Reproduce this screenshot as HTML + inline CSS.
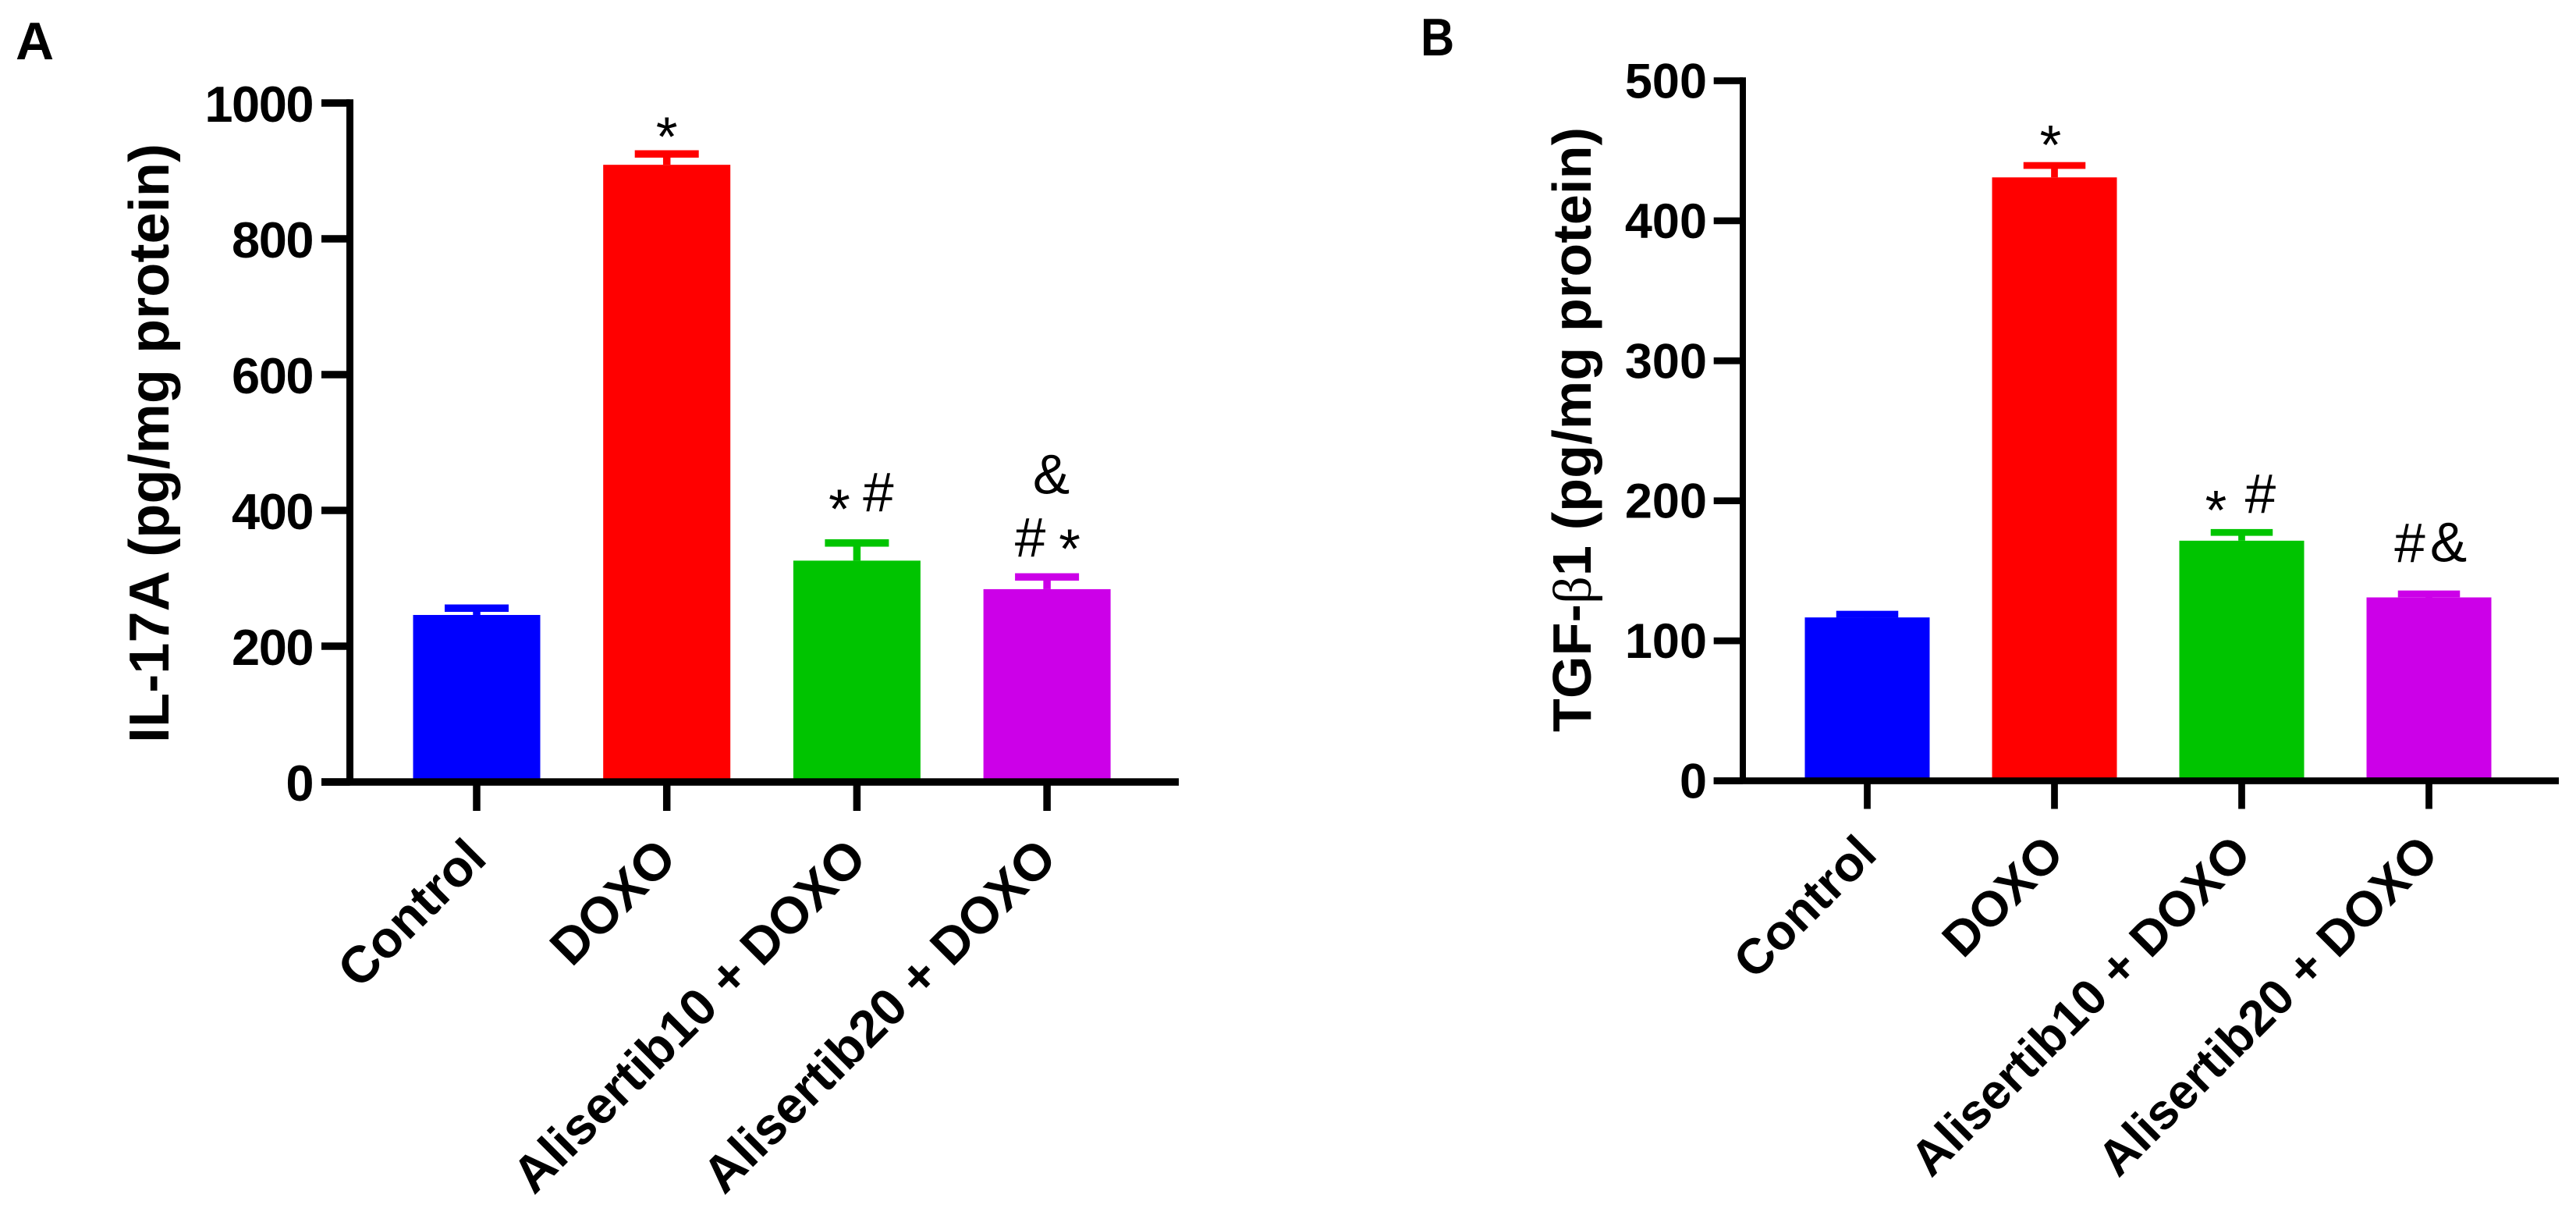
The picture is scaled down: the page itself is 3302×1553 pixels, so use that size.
<!DOCTYPE html>
<html lang="en">
<head>
<meta charset="utf-8">
<title>IL-17A and TGF-β1 bar charts</title>
<style>
html,body{margin:0;padding:0;background:#fff;width:3302px;height:1553px;overflow:hidden}
svg{display:block}
text{font-family:"Liberation Sans",sans-serif;fill:#000}
</style>
</head>
<body>
<svg id="figure" xmlns="http://www.w3.org/2000/svg" width="3302" height="1553" viewBox="0 0 3302 1553">
<rect x="0" y="0" width="3302" height="1553" fill="#fff"/>
</svg>
<script>
const categories = ['Control', 'DOXO', 'Alisertib10 + DOXO', 'Alisertib20 + DOXO'];
const barColors = ['#0000ff', '#ff0000', '#00c400', '#cc00e8'];

const il17aValues = [246, 909, 326, 284];
const il17aUpperError = [256, 925, 352, 302];
const il17aTicks = [0, 200, 400, 600, 800, 1000];

const tgfValues = [116.7, 431, 171.5, 131];
const tgfUpperError = [119, 439.5, 177.4, 133.5];
const tgfTicks = [0, 100, 200, 300, 400, 500];

const svg = document.getElementById('figure');
const NS = 'http://www.w3.org/2000/svg';

function make(tag, props, parent) {
  const el = document.createElementNS(NS, tag);
  for (const k in props) el.setAttribute(k, props[k]);
  (parent || svg).appendChild(el);
  return el;
}

function drawPanel(p) {
  const g = make('g', {});
  
  

  const x = i => p.x0 + p.step * i;
  const y = v => p.y0 - v * p.pxPerUnit;

  // bars and error bars
  p.values.forEach((v, i) => {
    const bar = make('rect', {x: x(i) - p.barW / 2, y: y(v), width: p.barW, height: p.y0 - y(v), fill: barColors[i]}, g);
    
    

    const capY = y(p.errors[i]);
    const stem = make('rect', {x: x(i) - p.thick / 2, y: capY, width: p.thick, height: y(v) - capY, fill: barColors[i]}, g);
    
    

    const cap = make('rect', {x: x(i) - p.capW / 2, y: capY - p.thick / 2, width: p.capW, height: p.thick, fill: barColors[i]}, g);
    
    
  });

  // y axis
  const axisTop = y(p.ticks[p.ticks.length - 1]) - p.thick / 2;
  const yAxis = make('rect', {x: p.axisX - p.axisW / 2, y: axisTop, width: p.axisW, height: p.y0 - axisTop, fill: '#000'}, g);
  
  

  p.ticks.forEach(t => {
    const tick = make('rect', {x: p.tickLeft, y: y(t) - p.thick / 2, width: p.axisX - p.tickLeft, height: p.thick, fill: '#000'}, g);
    
    

    const label = make('text', {x: p.labelRight, y: y(t) + p.labelDrop, 'text-anchor': 'end', 'font-size': p.tickFont, 'font-weight': 700, 'letter-spacing': p.tickSpacing}, g);
    label.textContent = String(t);
    
    
  });

  // x axis
  const xAxis = make('rect', {x: p.tickLeft, y: p.y0 - p.thick / 2, width: p.axisRight - p.tickLeft, height: p.thick, fill: '#000'}, g);
  
  

  categories.forEach((c, i) => {
    const tick = make('rect', {x: x(i) - p.thick / 2, y: p.y0, width: p.thick, height: p.tickBottom - p.y0, fill: '#000'}, g);
    
    

    const ax = x(i) + p.catDx;
    const ay = p.y0 + p.catDy;
    const label = make('text', {x: ax, y: ay, 'text-anchor': 'end', 'font-size': p.catFont, 'font-weight': 700, transform: 'rotate(-45 ' + ax + ' ' + ay + ')'}, g);
    label.textContent = c;
    
    
  });

  // significance marks, placed relative to the error cap of their bar
  p.marks.forEach(m => {
    const mark = make('text', {x: x(m[0]) + m[2], y: y(p.errors[m[0]]) + m[3], 'text-anchor': 'middle', 'font-size': 71}, g);
    mark.textContent = m[1];
    
    
  });
}

drawPanel({
  key: 'il17a', values: il17aValues, errors: il17aUpperError, ticks: il17aTicks,
  x0: 611, step: 243.7, barW: 163, capW: 82, thick: 9.5,
  y0: 1002, pxPerUnit: 0.87,
  axisX: 448.5, axisW: 9, tickLeft: 412, axisRight: 1511, tickBottom: 1039,
  labelRight: 401, labelDrop: 24, tickFont: 65, tickSpacing: -1.5,
  catDx: 15.5, catDy: 101, catFont: 66,
  marks: [
    [1, '*', 0, 2],
    [2, '*', -22.5, -19.5],
    [2, '#', 27.5, -40.5],
    [3, '&', 5.5, -107],
    [3, '#', -21.5, -26],
    [3, '*', 29, -12]
  ]
});

drawPanel({
  key: 'tgf', values: tgfValues, errors: tgfUpperError, ticks: tgfTicks,
  x0: 2393.5, step: 240, barW: 160, capW: 79.5, thick: 8.7,
  y0: 1000.5, pxPerUnit: 1.794,
  axisX: 2234, axisW: 8, tickLeft: 2196.7, axisRight: 3280, tickBottom: 1036.5,
  labelRight: 2188, labelDrop: 22, tickFont: 63, tickSpacing: 0,
  catDx: 15, catDy: 97, catFont: 63.5,
  marks: [
    [1, '*', -5, -2],
    [2, '*', -33, -4],
    [2, '#', 24, -24.7],
    [3, '#', -24.5, -40.5],
    [3, '&', 25, -41.5]
  ]
});

// static titles and panel letters
const letterA = make('text', {x: 20, y: 76, 'font-size': 68, 'font-weight': 700});
letterA.textContent = 'A';



const letterB = make('text', {transform: 'translate(1821 71) scale(0.88 1)', 'font-size': 68, 'font-weight': 700});
letterB.textContent = 'B';



const titleA = make('text', {transform: 'translate(216 952) rotate(-90)', 'font-size': 72, 'font-weight': 700, textLength: 768});
titleA.textContent = 'IL-17A (pg/mg protein)';



const titleB = make('text', {transform: 'translate(2039 938) rotate(-90)', 'font-size': 70, 'font-weight': 700, textLength: 775});


make('tspan', {}, titleB).textContent = 'TGF-';
make('tspan', {'font-family': '"Liberation Serif", serif', 'font-weight': 400}, titleB).textContent = 'β';
make('tspan', {}, titleB).textContent = '1 (pg/mg protein)';
</script>
</body>
</html>
